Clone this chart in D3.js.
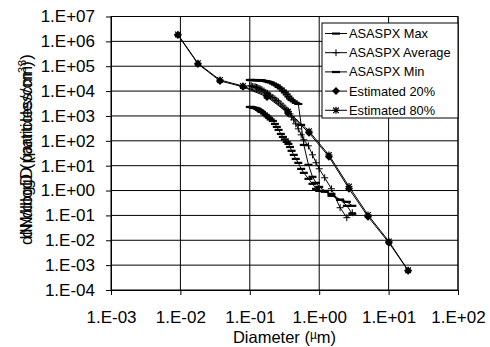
<!DOCTYPE html>
<html><head><meta charset="utf-8">
<script src="https://cdn.jsdelivr.net/npm/d3@7"></script>
<style>body{margin:0;background:#fff}svg{display:block}</style>
</head><body><svg id="chart" width="490" height="347"></svg>
<script>
// Axis ticks
const xTicks = [1e-3, 1e-2, 1e-1, 1, 10, 100];
const xTickLabels = ["1.E-03", "1.E-02", "1.E-01", "1.E+00", "1.E+01", "1.E+02"];
const yTicks = [1e-4, 1e-3, 1e-2, 1e-1, 1, 10, 100, 1e3, 1e4, 1e5, 1e6, 1e7];
const yTickLabels = ["1.E-04", "1.E-03", "1.E-02", "1.E-01", "1.E+00", "1.E+01",
                     "1.E+02", "1.E+03", "1.E+04", "1.E+05", "1.E+06", "1.E+07"];

// ASASPX size distribution (diameter in µm)
const asaspxDiam = [0.100, 0.105, 0.110, 0.115, 0.120, 0.125, 0.130, 0.135, 0.140, 0.145,
                    0.150, 0.160, 0.170, 0.180, 0.190, 0.200, 0.215, 0.230, 0.245, 0.260,
                    0.280, 0.300, 0.320, 0.340, 0.360, 0.380, 0.400, 0.430, 0.460, 0.500,
                    0.55, 0.60, 0.70, 0.80, 0.90, 1.0, 1.2, 1.5, 2.0, 2.5, 3.0];
const asaspxMax = [2.82e4, 2.82e4, 2.8e4, 2.8e4, 2.8e4, 2.8e4, 2.78e4, 2.78e4, 2.75e4, 2.7e4,
                   2.69e4, 2.6e4, 2.55e4, 2.45e4, 2.34e4, 2.25e4, 2.04e4, 1.85e4, 1.7e4, 1.47e4,
                   1.28e4, 1.07e4, 8.9e3, 7.4e3, 6.1e3, 5.1e3, 4.4e3, 3.9e3, 3.4e3, 3.06e3,
                   440, 69, 10.9, 3.6, 2.06, 1.42, 0.98, 0.62, 0.43, 0.245, 0.117];
const asaspxAvg = [1.62e4, 1.62e4, 1.54e4, 1.47e4, 1.47e4, 1.41e4, 1.35e4, 1.28e4, 1.23e4, 1.17e4,
                   1.12e4, 1.02e4, 8.87e3, 8.09e3, 7.04e3, 6.42e3, 5.58e3, 4.86e3, 4.23e3, 3.68e3,
                   3.06e3, 2.54e3, 2.12e3, 1.76e3, 1.53e3, 1.21e3, 920, 697, 482, 303,
                   174, 110, 63, 27.4, 13.1, 7.5, 3.27, 1.18, 0.204, 0.081, 0.128];
const asaspxMin = [2.32e3, 2.32e3, 2.22e3, 2.12e3, 2.12e3, 2.02e3, 1.93e3, 1.76e3, 1.68e3, 1.53e3,
                   1.46e3, 1.27e3, 1.11e3, 964, 839, 730, 636, 482, 365, 277,
                   191, 145, 115, 91, 76, 57, 40, 27.4, 18.9, 13.1,
                   7.5, 5.2, 2.98, 1.88, 1.18, 0.98, 0.90, 0.74, 0.43, 0.355, 0.245];

// Estimated distributions
const estDiam = [0.0092, 0.0179, 0.0372, 0.0798, 0.177, 0.355, 0.713, 1.38, 2.69, 5.05, 10.1, 19.1];
const est20 = [1.81e6, 1.24e5, 2.57e4, 1.48e4, 5.85e3, 1.33e3, 209, 23, 1.18, 0.0887, 0.0080, 6.0e-4];
const est80 = [1.9e6, 1.32e5, 2.8e4, 1.6e4, 6.6e3, 1.5e3, 245, 27, 1.45, 0.105, 0.0090, 6.2e-4];

const seriesNames = ["ASASPX Max", "ASASPX Average", "ASASPX Min", "Estimated 20%", "Estimated 80%"];

const svg = d3.select("#chart");
const font = "'Liberation Sans', Arial, sans-serif";
const L = 111, R = 458, T = 16.5, B = 290;

const x = d3.scaleLog().domain([1e-3, 1e2]).range([L, R]);
const y = d3.scaleLog().domain([1e-4, 1e7]).range([B, T]);

// Grid
const grid = svg.append("g").attr("stroke", "#000").attr("stroke-width", 1);
grid.selectAll("line.h").data(yTicks.slice(1)).join("line")
  .attr("x1", L).attr("x2", R).attr("y1", d => y(d)).attr("y2", d => y(d));
grid.selectAll("line.v").data(xTicks.slice(1)).join("line")
  .attr("y1", T).attr("y2", B).attr("x1", d => x(d)).attr("x2", d => x(d));

// Frame
svg.append("rect").attr("x", L).attr("y", T).attr("width", R - L).attr("height", B - T)
  .attr("fill", "none").attr("stroke", "#000").attr("stroke-width", 1);

// Axes
const xAxis = d3.axisBottom(x).tickValues(xTicks).tickFormat((d, i) => xTickLabels[i])
  .tickSizeInner(5).tickSizeOuter(0).tickPadding(15.5);
const yAxis = d3.axisLeft(y).tickValues(yTicks).tickFormat((d, i) => yTickLabels[i])
  .tickSizeInner(5).tickSizeOuter(0).tickPadding(11);
const gx = svg.append("g").attr("transform", `translate(0,${B})`).call(xAxis);
const gy = svg.append("g").attr("transform", `translate(${L},0)`).call(yAxis);
[gx, gy].forEach(g => {
  g.select(".domain").attr("stroke", "#000");
  g.selectAll(".tick line").attr("stroke", "#000");
  g.selectAll("text").attr("font-family", font).attr("font-size", 17).attr("fill", "#000");
});

// Marker shapes
function marker(g, kind) {
  if (kind === "dash") {
    g.append("rect").attr("x", -4).attr("y", -1).attr("width", 8).attr("height", 2.2).attr("fill", "#000");
  } else if (kind === "plus") {
    g.append("path").attr("d", "M-3.5,0H3.5M0,-3.5V3.5").attr("stroke", "#000").attr("stroke-width", 1).attr("fill", "none");
  } else if (kind === "diamond") {
    g.append("path").attr("d", "M0,-4L4,0L0,4L-4,0Z").attr("fill", "#000");
  } else if (kind === "star") {
    g.append("path").attr("d", "M-3.5,0H3.5M0,-3.5V3.5M-2.8,-2.8L2.8,2.8M-2.8,2.8L2.8,-2.8")
      .attr("stroke", "#000").attr("stroke-width", 1.2).attr("fill", "none");
  }
}

const series = [
  {name: seriesNames[0], d: asaspxDiam, v: asaspxMax, m: "dash"},
  {name: seriesNames[1], d: asaspxDiam, v: asaspxAvg, m: "plus"},
  {name: seriesNames[2], d: asaspxDiam, v: asaspxMin, m: "dash"},
  {name: seriesNames[3], d: estDiam, v: est20, m: "diamond"},
  {name: seriesNames[4], d: estDiam, v: est80, m: "star"}
];

const line = d3.line().x(p => x(p[0])).y(p => y(p[1]));
const plot = svg.append("g");
series.forEach(s => {
  const pts = s.d.map((d, i) => [d, s.v[i]]);
  plot.append("path").attr("d", line(pts)).attr("fill", "none").attr("stroke", "#000").attr("stroke-width", 1);
  pts.forEach(p => {
    marker(plot.append("g").attr("transform", `translate(${x(p[0])},${y(p[1])})`), s.m);
  });
});

// Legend
const lg = svg.append("g");
lg.append("rect").attr("x", 322).attr("y", 23).attr("width", 136).attr("height", 95)
  .attr("fill", "#fff").attr("stroke", "#000").attr("stroke-width", 1);
series.forEach((s, i) => {
  const cy = 33.5 + i * 19.2;
  lg.append("line").attr("x1", 325).attr("x2", 347).attr("y1", cy).attr("y2", cy).attr("stroke", "#000");
  marker(lg.append("g").attr("transform", `translate(336,${cy})`), s.m);
  lg.append("text").attr("x", 349).attr("y", cy + 4.5).text(s.name)
    .attr("font-family", font).attr("font-size", 12.8).attr("fill", "#000");
});

// Axis titles
const xt = svg.append("text").attr("x", 284.5).attr("y", 342.5).attr("text-anchor", "middle")
  .attr("font-family", font).attr("font-size", 16.5).attr("fill", "#000");
xt.append("tspan").text("Diameter (");
xt.append("tspan").text("µ").attr("font-size", 12).attr("dy", -4);
xt.append("tspan").text("m)").attr("dy", 4);

const yLabel = "dN/dlogD (particles/cm";
[146, 153].forEach(cy => {
  const t = svg.append("text").attr("transform", `translate(32,${cy}) rotate(-90)`)
    .attr("text-anchor", "middle").attr("font-family", font).attr("font-size", 17).attr("fill", "#000");
  t.append("tspan").text(yLabel);
  t.append("tspan").text("3").attr("font-size", 11).attr("dy", -6);
  t.append("tspan").text(")").attr("dy", 6);
});
</script></body></html>
